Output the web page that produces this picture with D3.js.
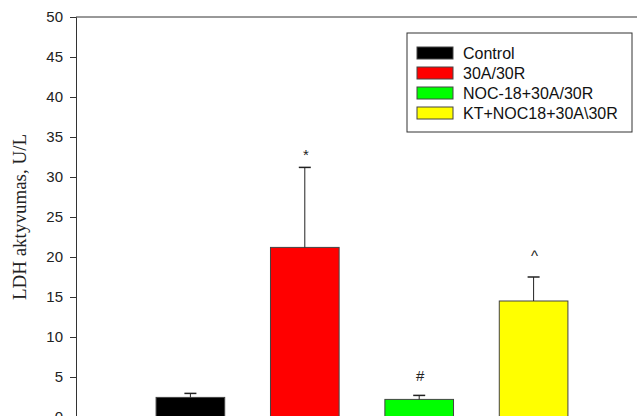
<!DOCTYPE html>
<html>
<head>
<meta charset="utf-8">
<script src="https://cdn.jsdelivr.net/npm/d3@7"></script>
<style>
  body { margin: 0; background: #fff; }
  svg { display: block; }
</style>
</head>
<body>
<div id="chart"></div>
<script>
// data
const groups = ["Control", "30A/30R", "NOC-18+30A/30R", "KT+NOC18+30A\\30R"];
const means = [2.45, 21.2, 2.2, 14.5];
const errors = [0.5, 10.0, 0.5, 3.0];
const marks = ["", "*", "#", "^"];
const colors = ["#000000", "#ff0000", "#00ff00", "#ffff00"];
const yTicks = [0, 5, 10, 15, 20, 25, 30, 35, 40, 45, 50];

const width = 637, height = 416;
const plotLeft = 76, plotTop = 17, plotBottom = 417, plotRight = 648;
// gap in px between error cap and its mark
const markGap = [0, 7, 14, 16];

let svg = d3.select("#chart")
    .append("svg")
    .attr("width", width)
    .attr("height", height)

let x = d3.scaleBand()
    .domain(groups)
    .range([plotLeft, plotRight])
    .paddingInner(0.4)
    .paddingOuter(0.7)

let y = d3.scaleLinear()
    .domain([0, 50])
    .range([plotBottom, plotTop])

// bars
svg.selectAll("rect.bar")
    .data(groups)
    .enter()
    .append("rect")
    .classed("bar", true)
    .attr("x", d => x(d))
    .attr("width", x.bandwidth())
    .attr("y", (d, i) => y(means[i]))
    .attr("height", (d, i) => y(0) - y(means[i]))
    .attr("fill", (d, i) => colors[i])
    .attr("stroke", "#444")
    .attr("stroke-width", 1)

// error bars (upper only)
let cx = d => x(d) + x.bandwidth() / 2
svg.selectAll("line.err")
    .data(groups)
    .enter()
    .append("line")
    .attr("x1", cx).attr("x2", cx)
    .attr("y1", (d, i) => y(means[i]))
    .attr("y2", (d, i) => y(means[i] + errors[i]))
    .attr("stroke", "#222")
    .attr("stroke-width", 1)

svg.selectAll("line.cap")
    .data(groups)
    .enter()
    .append("line")
    .attr("x1", d => cx(d) - 6).attr("x2", d => cx(d) + 6)
    .attr("y1", (d, i) => y(means[i] + errors[i]))
    .attr("y2", (d, i) => y(means[i] + errors[i]))
    .attr("stroke", "#222")
    .attr("stroke-width", 1.5)

// significance marks
svg.selectAll("text.mark")
    .data(groups)
    .enter()
    .append("text")
    .attr("x", d => cx(d) + 1)
    .attr("y", (d, i) => y(means[i] + errors[i]) - markGap[i])
    .attr("text-anchor", "middle")
    .style("font-family", "'Liberation Sans', Arial, sans-serif")
    .style("font-size", "15px")
    .attr("fill", "#222")
    .text((d, i) => marks[i])

// y axis
let yAxis = svg.append("g")
    .attr("transform", "translate(" + plotLeft + ",0)")
    .call(d3.axisLeft(y).tickValues(yTicks).tickSize(6).tickPadding(7))
yAxis.select(".domain").attr("stroke", "#333")
yAxis.selectAll(".tick line").attr("stroke", "#333")
yAxis.selectAll("text")
    .style("font-family", "'Liberation Sans', Arial, sans-serif")
    .style("font-size", "15px")
    .attr("fill", "#222")

// top frame line
svg.append("line")
    .attr("x1", plotLeft).attr("x2", width)
    .attr("y1", y(50)).attr("y2", y(50))
    .attr("stroke", "#333")

// y title
svg.append("text")
    .attr("transform", "translate(26," + (plotTop + plotBottom) / 2 + ") rotate(-90)")
    .attr("text-anchor", "middle")
    .style("font-family", "'Liberation Serif', 'Times New Roman', serif")
    .style("font-size", "19px")
    .attr("fill", "#222")
    .text("LDH aktyvumas, U/L")

// legend
let legend = svg.append("g")
    .attr("transform", "translate(407,33)")

legend.append("rect")
    .attr("width", 225)
    .attr("height", 99)
    .attr("fill", "#fff")
    .attr("stroke", "#333")

let items = legend.selectAll("g.item")
    .data(groups)
    .enter()
    .append("g")
    .attr("transform", (d, i) => "translate(10," + (14 + i * 20) + ")")

items.append("rect")
    .attr("width", 36)
    .attr("height", 12)
    .attr("fill", (d, i) => colors[i])
    .attr("stroke", "#444")

items.append("text")
    .attr("x", 46)
    .attr("y", 12)
    .style("font-family", "'Liberation Sans', Arial, sans-serif")
    .style("font-size", "16px")
    .attr("fill", "#111")
    .text(d => d)
</script>
</body>
</html>
